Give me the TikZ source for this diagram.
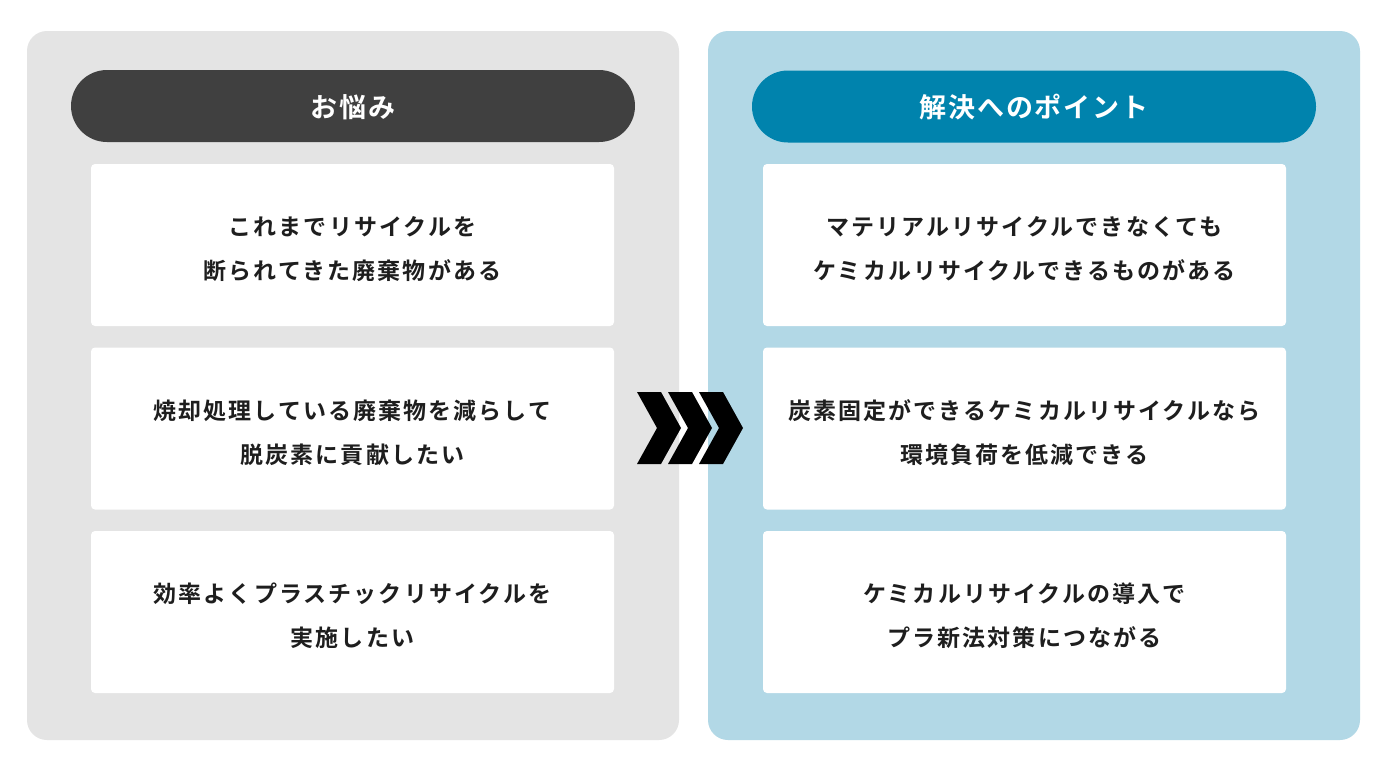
\documentclass[tikz,border=0pt]{standalone}
\usepackage{fontspec}
\newfontfamily\jpbody{Noto Sans CJK JP}[BoldFont={Noto Sans CJK JP Bold},LetterSpace=9]
\newfontfamily\jphead{Noto Sans CJK JP}[BoldFont={Noto Sans CJK JP Bold},LetterSpace=7]
\definecolor{leftbg}{HTML}{E4E4E4}
\definecolor{rightbg}{HTML}{B2D8E6}
\definecolor{darkpill}{HTML}{404040}
\definecolor{bluepill}{HTML}{0083AD}
\definecolor{bodytxt}{HTML}{1E1E1E}
\tikzset{
  panel/.style={rounded corners=20pt},
  pill/.style={draw=none, minimum width=564pt, minimum height=72pt, rounded corners=36pt, inner sep=0pt},
  pilltext/.style={text=white, font=\jphead\bfseries\fontsize{27pt}{30pt}\selectfont, inner sep=0pt},
  card/.style={fill=white, rounded corners=4pt, minimum width=523pt, minimum height=162pt, inner sep=0pt},
  cardtext/.style={inner sep=0pt, align=center, text=bodytxt, font=\jpbody\bfseries\fontsize{23pt}{44pt}\selectfont},
  chev/.style={fill=black, draw=none}
}
\begin{document}
\begin{tikzpicture}[x=1pt,y=-1pt]
\useasboundingbox (0,0) rectangle (1383,772);
\fill[white] (0,0) rectangle (1383,772);
% panels
\fill[leftbg, panel] (27,31) rectangle (679,740);
\fill[rightbg, panel] (708,31) rectangle (1360,740);
% headers
\node[pill, fill=darkpill] (hl) at (353,106) {};
\node[pilltext] (hlt) at ([yshift=-1pt]hl.center) {お悩み};
\node[pill, fill=bluepill] (hr) at (1034,106.5) {};
\node[pilltext] (hrt) at ([yshift=-1pt]hr.center) {解決へのポイント};
% left cards
\node[card] (l1) at (352.5,245) {};
\node[card] (l2) at (352.5,428.5) {};
\node[card] (l3) at (352.5,612) {};
\node[cardtext] (l1t) at ([yshift=-4pt]l1.center) {これまでリサイクルを\\断られてきた廃棄物がある};
\node[cardtext] (l2t) at ([yshift=-4pt]l2.center) {焼却処理している廃棄物を減らして\\脱炭素に貢献したい};
\node[cardtext] (l3t) at ([yshift=-4pt]l3.center) {効率よくプラスチックリサイクルを\\実施したい};
% right cards
\node[card] (r1) at (1024.5,245) {};
\node[card] (r2) at (1024.5,428.5) {};
\node[card] (r3) at (1024.5,612) {};
\node[cardtext] (r1t) at ([yshift=-4pt]r1.center) {マテリアルリサイクルできなくても\\ケミカルリサイクルできるものがある};
\node[cardtext] (r2t) at ([yshift=-4pt]r2.center) {炭素固定ができるケミカルリサイクルなら\\環境負荷を低減できる};
\node[cardtext] (r3t) at ([yshift=-4pt]r3.center) {ケミカルリサイクルの導入で\\プラ新法対策につながる};
% chevrons
\foreach \cx in {637,668,699}{
  \fill[chev] (\cx,392) -- ++(24,0) -- ++(20,36) -- ++(-20,36) -- ++(-24,0) -- ++(20,-36) -- cycle;
}
\end{tikzpicture}
\end{document}
